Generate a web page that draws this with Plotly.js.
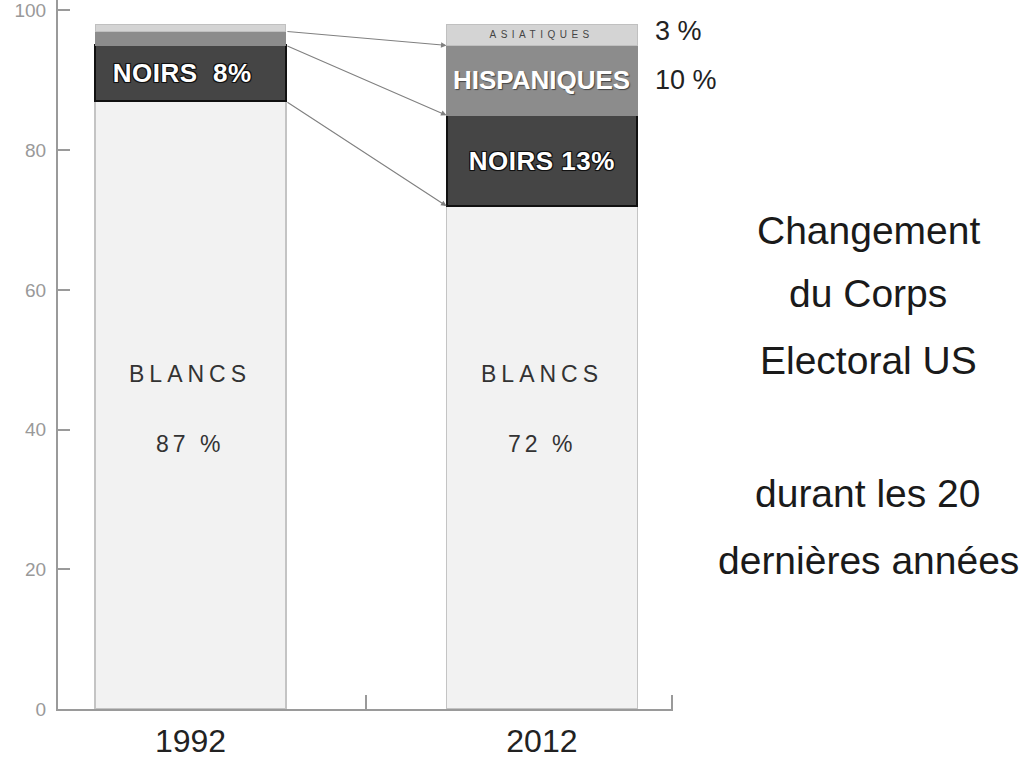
<!DOCTYPE html>
<html>
<head>
<meta charset="utf-8">
<script src="https://cdn.plot.ly/plotly-3.0.1.min.js"></script>
<style>
  html, body { margin: 0; padding: 0; background: #fff; }
  #chart { width: 1026px; height: 765px; }
</style>
</head>
<body>
<div id="chart"></div>
<script>
// Electorate composition by group (percent of voters)
const years = ['1992', '2012'];
const whites = [87, 72];
const blacks = [8, 13];
const hispanics = [2, 10];
const asians = [1, 3];

const yTicks = [0, 20, 40, 60, 80, 100];
const titleLines = ['Changement', 'du Corps', 'Electoral US', '', 'durant les 20', 'dernières années'];

const xs = years.map((_, i) => i);
const barWidth = 0.543;
const half = barWidth / 2;

const FONT = 'Liberation Sans, Arial, Helvetica, sans-serif';

function barTrace(name, vals, fill, lineColor, lineWidth) {
  return {
    type: 'bar', name: name, x: xs, y: vals, width: barWidth,
    marker: { color: fill, line: { color: lineColor, width: lineWidth } },
    hoverinfo: 'skip', showlegend: false
  };
}

const data = [
  barTrace('Blancs', whites, '#f2f2f2', '#c4c4c4', 1.5),
  barTrace('Noirs', blacks, '#454545', '#111111', 2),
  barTrace('Hispaniques', hispanics, '#8c8c8c', '#8c8c8c', 1),
  barTrace('Asiatiques', asians, '#d4d4d4', '#c0c0c0', 1)
];

// cumulative boundaries for each year
const cumWhite = whites.slice();
const cumBlack = whites.map((w, i) => w + blacks[i]);
const cumHisp = cumBlack.map((c, i) => c + hispanics[i]);

const annotations = [];

// arrows linking group boundaries between the two years
[cumWhite, cumBlack, cumHisp].forEach(cum => {
  annotations.push({
    xref: 'x', yref: 'y', axref: 'x', ayref: 'y',
    x: xs[1] - half, y: cum[1],
    ax: xs[0] + half, ay: cum[0],
    text: '', showarrow: true, arrowhead: 2, arrowsize: 1,
    arrowwidth: 1.1, arrowcolor: '#808080', standoff: 0, startstandoff: 0
  });
});

const outline = '-1px -1px 0 #111, 1px -1px 0 #111, -1px 1px 0 #111, 1px 1px 0 #111, 0 0 2px #000';

// labels inside the bars
xs.forEach(i => {
  annotations.push({
    xref: 'x', yref: 'y', x: i, y: 48, text: 'BLANCS', showarrow: false,
    font: { family: FONT, size: 23, color: '#333' }
  });
  annotations.push({
    xref: 'x', yref: 'y', x: i, y: 38, text: whites[i] + ' %', showarrow: false,
    font: { family: FONT, size: 23, color: '#333' }
  });
  annotations.push({
    xref: 'x', yref: 'y', x: i - (i === 0 ? 0.025 : 0), y: whites[i] + blacks[i] / 2,
    text: i === 0 ? 'NOIRS  ' + blacks[i] + '%' : 'NOIRS ' + blacks[i] + '%',
    showarrow: false,
    font: { family: FONT, size: 26, color: '#ffffff', weight: 'bold', shadow: outline }
  });
});

annotations.push({
  xref: 'x', yref: 'y', x: xs[1], y: cumBlack[1] + hispanics[1] / 2,
  text: 'HISPANIQUES', showarrow: false,
  font: { family: FONT, size: 26, color: '#ffffff', weight: 'bold', shadow: '1px 1px 1px #444' }
});
annotations.push({
  xref: 'x', yref: 'y', x: xs[1], y: cumHisp[1] + asians[1] / 2,
  text: 'ASIATIQUES', showarrow: false,
  font: { family: FONT, size: 10, color: '#444' }
});

// percentages to the right of the 2012 bar
annotations.push({
  xref: 'x', yref: 'y', x: xs[1] + half + 0.045, y: cumHisp[1] + asians[1] / 2 + 0.5,
  xanchor: 'left', text: asians[1] + ' %', showarrow: false,
  font: { family: FONT, size: 27, color: '#222' }
});
annotations.push({
  xref: 'x', yref: 'y', x: xs[1] + half + 0.045, y: cumBlack[1] + hispanics[1] / 2,
  xanchor: 'left', text: hispanics[1] + ' %', showarrow: false,
  font: { family: FONT, size: 27, color: '#222' }
});

// side caption
const captionY = [230, 293, 360, 426, 493, 560];
titleLines.forEach((t, k) => {
  if (!t) return;
  annotations.push({
    xref: 'paper', yref: 'paper', x: (868 - 58) / 615, y: (709 - captionY[k]) / 709,
    xanchor: 'center', yanchor: 'middle', text: t, showarrow: false,
    font: { family: FONT, size: 39, color: '#1a1a1a' }
  });
});

const layout = {
  width: 1026, height: 765,
  margin: { l: 58, r: 353, t: 0, b: 56 },
  paper_bgcolor: '#ffffff', plot_bgcolor: '#ffffff',
  barmode: 'stack', bargap: 0,
  xaxis: {
    range: [-0.377, 1.373], showgrid: false, zeroline: false,
    showline: true, linecolor: '#9a9a9a', linewidth: 2,
    tickmode: 'array', tickvals: xs, ticktext: years, ticks: '',
    tickfont: { family: FONT, size: 32, color: '#222' },
    ticklabelstandoff: 3,
    minor: { tickmode: 'array', tickvals: [0.5, 1.37], ticks: 'inside', ticklen: 14, tickwidth: 2, tickcolor: '#9a9a9a' },
    fixedrange: true
  },
  yaxis: {
    range: [0, 101.5], showgrid: false, zeroline: false,
    showline: true, linecolor: '#9a9a9a', linewidth: 2,
    tickmode: 'array', tickvals: yTicks,
    ticks: 'inside', ticklen: 12, tickwidth: 2, tickcolor: '#9a9a9a',
    tickfont: { family: FONT, size: 19, color: '#999' },
    ticklabelstandoff: 6,
    fixedrange: true
  },
  annotations: annotations
};

Plotly.newPlot('chart', data, layout, { staticPlot: true }).then(() => {
  // widen the tracking of the spaced labels
  document.querySelectorAll('.annotation-text').forEach(el => {
    const t = el.textContent;
    if (t === 'BLANCS') el.style.letterSpacing = '5px';
    else if (t === 'ASIATIQUES') el.style.letterSpacing = '4.5px';
    else if (/^\d+ %$/.test(t) && el.style.fontSize === '23px') el.style.letterSpacing = '4px';
    else if (/^NOIRS/.test(t)) el.style.letterSpacing = '0.5px';
  });
});
</script>
</body>
</html>
